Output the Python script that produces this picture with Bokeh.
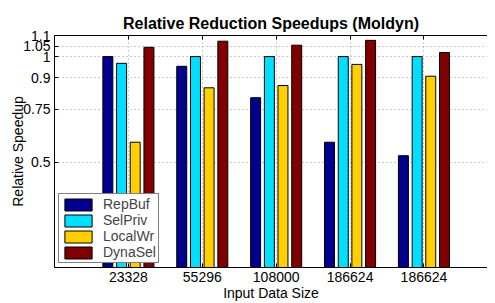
from bokeh.plotting import figure
from bokeh.models import Range1d, FixedTicker, LinearAxis, Legend, LegendItem, Title
from bokeh.embed import file_html
from bokeh.resources import INLINE

sizes = ["23328", "55296", "108000", "186624", "186624"]
series = ["RepBuf", "SelPriv", "LocalWr", "DynaSel"]
repbuf = [1.0, 0.954, 0.805, 0.594, 0.530]
selpriv = [0.968, 1.0, 1.0, 1.0, 1.0]
localwr = [0.594, 0.852, 0.863, 0.963, 0.907]
dynasel = [1.044, 1.073, 1.054, 1.077, 1.019]
yticks = [0.5, 0.75, 0.9, 1.0, 1.05, 1.1]
ytick_labels = ["0.5", "0.75", "0.9", "1", "1.05", "1.1"]
colors = ["#00008F", "#00DFFF", "#FFCF00", "#800000"]

FONT = "Liberation Sans"
p = figure(width=487, height=303, output_backend="svg", toolbar_location=None,
           x_range=Range1d(0, 5.86), y_range=Range1d(0, 1.1),
           min_border_left=54, min_border_right=0, min_border_top=35, min_border_bottom=33)
p.outline_line_color = None
p.background_fill_color = "white"
p.border_fill_color = "white"

xs = list(range(1, len(sizes) + 1))
offsets = [-0.278, -0.092, 0.092, 0.278]
renderers = []
for vals, off, col in zip([repbuf, selpriv, localwr, dynasel], offsets, colors):
    r = p.vbar(x=[x + off for x in xs], top=vals, bottom=0, width=0.135,
               fill_color=col, line_color="black", line_width=1)
    renderers.append(r)

# axes
xax = p.xaxis[0]
xax.ticker = FixedTicker(ticks=xs)
xax.major_label_overrides = {x: s for x, s in zip(xs, sizes)}
yax = p.yaxis[0]
yax.ticker = FixedTicker(ticks=yticks)
yax.major_label_overrides = {t: s for t, s in zip(yticks, ytick_labels)}
for ax in (xax, yax):
    ax.major_tick_in = 4
    ax.major_tick_out = 0
    ax.minor_tick_line_color = None
    ax.major_label_text_font = FONT
    ax.major_label_text_font_size = "14px"
    ax.major_label_text_color = "black"
    ax.axis_label_text_font = FONT
    ax.axis_label_text_font_size = "14px"
    ax.axis_label_text_font_style = "normal"
    ax.axis_label_text_color = "black"
    ax.axis_line_color = "black"
    ax.major_tick_line_color = "black"
xax.major_label_standoff = 4
yax.major_label_standoff = 4
xax.axis_label = "Input Data Size"
xax.axis_label_standoff = 0
yax.axis_label = "Relative Speedup"
yax.axis_label_standoff = -6

top = LinearAxis(ticker=FixedTicker(ticks=xs), major_label_overrides={x: "" for x in xs},
                 major_label_standoff=0, major_tick_in=4, major_tick_out=0,
                 minor_tick_line_color=None, axis_line_color="black")
p.add_layout(top, "above")

for g in p.grid:
    g.grid_line_color = "#999999"
    g.grid_line_dash = "1 3"
    g.grid_line_width = 1
p.xgrid.ticker = FixedTicker(ticks=xs)
p.ygrid.ticker = FixedTicker(ticks=yticks)

legend = Legend(items=[LegendItem(label=s, renderers=[r]) for s, r in zip(series, renderers)],
                location="bottom_left", glyph_width=34, glyph_height=15, label_height=14,
                spacing=0, padding=2, label_standoff=8, margin=4,
                label_text_font=FONT, label_text_font_size="14px",
                border_line_color="black", border_line_width=1,
                background_fill_alpha=1)
p.add_layout(legend)

p.title = Title(text="Relative Reduction Speedups (Moldyn)", align="center", offset=6,
                text_font=FONT, text_font_size="16px", text_font_style="bold",
                text_color="black", standoff=8)

open("out.html", "w").write(file_html(p, INLINE))
